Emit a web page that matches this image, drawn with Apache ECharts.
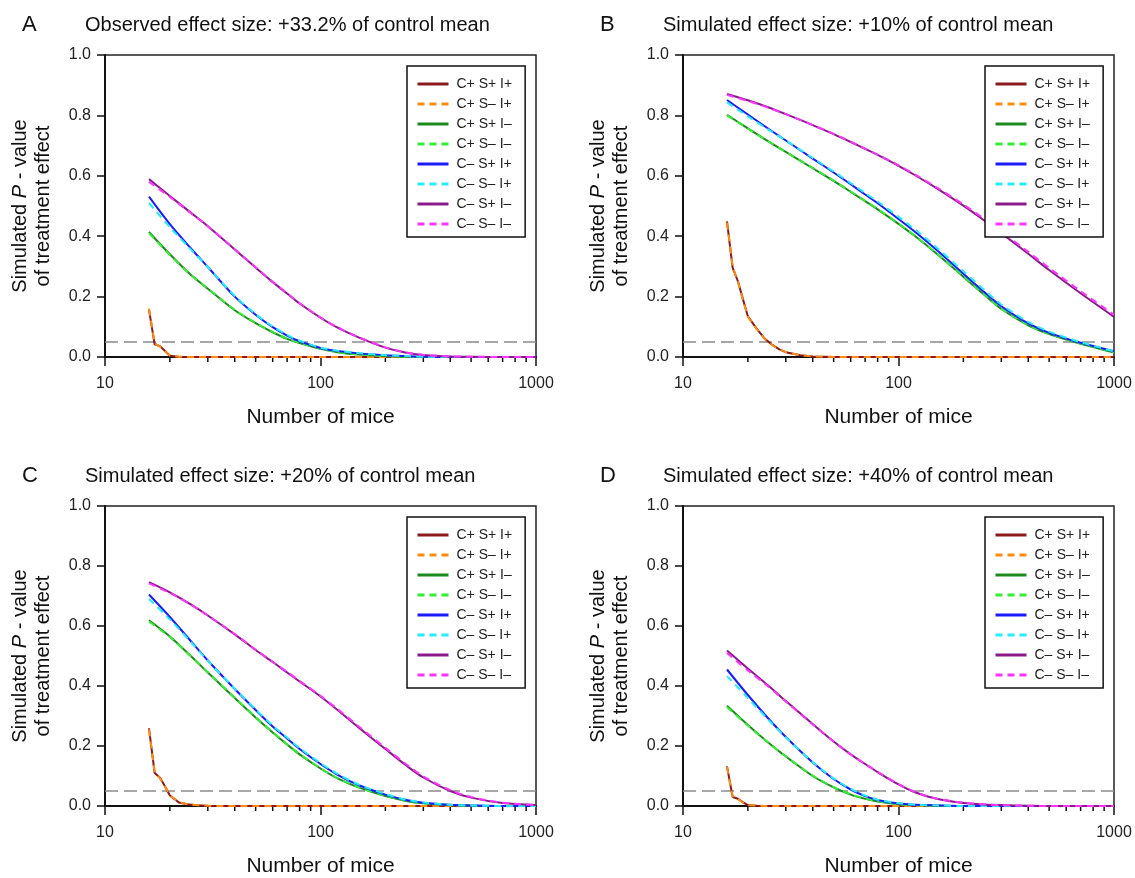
<!DOCTYPE html>
<html><head><meta charset="utf-8">
<script src="https://cdn.jsdelivr.net/npm/echarts@6/dist/echarts.min.js"></script>
<style>html,body{margin:0;padding:0;background:#fff}#c{width:1135px;height:878px}</style>
</head><body><div id="c"></div>
<script>
// ---------- DATA ----------
const seriesNames = ['C+ S+ I+','C+ S– I+','C+ S+ I–','C+ S– I–','C– S+ I+','C– S– I+','C– S+ I–','C– S– I–'];
const panelLetters = ['A','B','C','D'];
const panelTitles = [
  'Observed effect size: +33.2% of control mean',
  'Simulated effect size: +10% of control mean',
  'Simulated effect size: +20% of control mean',
  'Simulated effect size: +40% of control mean'
];
const xTicks = [10, 100, 1000];
const yTicks = [0, 0.2, 0.4, 0.6, 0.8, 1.0];
const minorTicks = [20,30,40,50,60,70,80,90,200,300,400,500,600,700,800,900];
const threshold = 0.05;

// Number of mice sampled
const nMain = [16, 20, 25, 30, 40, 50, 60, 70, 80, 100, 120, 150, 200, 250, 300, 400, 500, 700, 1000];
const nLow  = [16, 17, 18, 19, 20, 22, 24, 26, 28, 30, 35, 40, 50, 100, 1000];

// Panel A (observed +33.2%)
const A_cpSpIp = [0.157, 0.042, 0.036, 0.020, 0.004, 0.001, 0, 0, 0, 0, 0, 0, 0, 0, 0];
const A_cpSmIp = [0.160, 0.045, 0.034, 0.019, 0.005, 0.001, 0, 0, 0, 0, 0, 0, 0, 0, 0];
const A_cpSpIm = [0.414, 0.340, 0.272, 0.226, 0.155, 0.112, 0.082, 0.060, 0.046, 0.027, 0.016, 0.008, 0.003, 0.001, 0, 0, 0, 0, 0];
const A_cpSmIm = [0.410, 0.338, 0.272, 0.227, 0.156, 0.113, 0.083, 0.061, 0.047, 0.028, 0.016, 0.008, 0.003, 0.001, 0, 0, 0, 0, 0];
const A_cmSpIp = [0.531, 0.440, 0.360, 0.298, 0.200, 0.140, 0.099, 0.071, 0.052, 0.030, 0.020, 0.012, 0.006, 0.003, 0.001, 0, 0, 0, 0];
const A_cmSmIp = [0.510, 0.430, 0.356, 0.298, 0.202, 0.142, 0.101, 0.073, 0.054, 0.031, 0.021, 0.013, 0.006, 0.003, 0.001, 0, 0, 0, 0];
const A_cmSpIm = [0.589, 0.533, 0.478, 0.433, 0.356, 0.296, 0.248, 0.210, 0.177, 0.130, 0.097, 0.065, 0.031, 0.014, 0.007, 0.002, 0.001, 0, 0];
const A_cmSmIm = [0.580, 0.530, 0.477, 0.433, 0.357, 0.297, 0.249, 0.211, 0.178, 0.131, 0.098, 0.066, 0.032, 0.015, 0.007, 0.002, 0.001, 0, 0];

// Panel B (+10%)
const B_cpSpIp = [0.449, 0.295, 0.250, 0.190, 0.135, 0.093, 0.060, 0.040, 0.025, 0.016, 0.006, 0.002, 0, 0, 0];
const B_cpSmIp = [0.445, 0.300, 0.248, 0.188, 0.133, 0.092, 0.059, 0.039, 0.025, 0.016, 0.006, 0.002, 0, 0, 0];
const B_cpSpIm = [0.802, 0.757, 0.713, 0.679, 0.625, 0.583, 0.547, 0.516, 0.489, 0.441, 0.399, 0.343, 0.266, 0.206, 0.159, 0.105, 0.076, 0.044, 0.015];
const B_cpSmIm = [0.800, 0.756, 0.713, 0.679, 0.626, 0.584, 0.548, 0.517, 0.490, 0.442, 0.400, 0.344, 0.267, 0.207, 0.160, 0.106, 0.077, 0.045, 0.016];
const B_cmSpIp = [0.851, 0.803, 0.755, 0.717, 0.657, 0.611, 0.572, 0.538, 0.509, 0.457, 0.413, 0.355, 0.276, 0.215, 0.168, 0.111, 0.080, 0.047, 0.019];
const B_cmSmIp = [0.843, 0.797, 0.752, 0.717, 0.659, 0.614, 0.576, 0.543, 0.515, 0.464, 0.421, 0.363, 0.284, 0.222, 0.174, 0.116, 0.084, 0.049, 0.019];
const B_cmSpIm = [0.871, 0.850, 0.826, 0.804, 0.768, 0.738, 0.712, 0.689, 0.669, 0.633, 0.601, 0.559, 0.501, 0.452, 0.410, 0.342, 0.288, 0.211, 0.133];
const B_cmSmIm = [0.868, 0.848, 0.825, 0.804, 0.768, 0.739, 0.713, 0.690, 0.670, 0.635, 0.603, 0.562, 0.505, 0.457, 0.415, 0.348, 0.295, 0.218, 0.140];

// Panel C (+20%)
const C_cpSpIp = [0.259, 0.110, 0.094, 0.065, 0.035, 0.012, 0.006, 0.003, 0.002, 0.001, 0, 0, 0, 0, 0];
const C_cpSmIp = [0.255, 0.112, 0.092, 0.066, 0.036, 0.013, 0.006, 0.003, 0.002, 0.001, 0, 0, 0, 0, 0];
const C_cpSpIm = [0.619, 0.565, 0.500, 0.445, 0.360, 0.295, 0.245, 0.205, 0.172, 0.125, 0.092, 0.062, 0.033, 0.017, 0.009, 0.003, 0.001, 0, 0];
const C_cpSmIm = [0.615, 0.563, 0.500, 0.446, 0.361, 0.296, 0.246, 0.206, 0.173, 0.126, 0.093, 0.063, 0.034, 0.018, 0.009, 0.003, 0.001, 0, 0];
const C_cmSpIp = [0.705, 0.630, 0.550, 0.485, 0.390, 0.320, 0.265, 0.225, 0.190, 0.140, 0.104, 0.070, 0.038, 0.020, 0.011, 0.004, 0.002, 0, 0];
const C_cmSmIp = [0.690, 0.622, 0.547, 0.484, 0.391, 0.322, 0.268, 0.228, 0.193, 0.143, 0.107, 0.072, 0.040, 0.021, 0.012, 0.004, 0.002, 0, 0];
const C_cmSpIm = [0.746, 0.712, 0.672, 0.635, 0.572, 0.520, 0.480, 0.445, 0.415, 0.365, 0.320, 0.262, 0.190, 0.135, 0.095, 0.050, 0.028, 0.010, 0.003];
const C_cmSmIm = [0.742, 0.710, 0.671, 0.635, 0.573, 0.521, 0.481, 0.447, 0.417, 0.367, 0.323, 0.266, 0.194, 0.139, 0.099, 0.053, 0.030, 0.011, 0.003];

// Panel D (+40%)
const D_cpSpIp = [0.132, 0.030, 0.024, 0.012, 0.003, 0.001, 0, 0, 0, 0, 0, 0, 0, 0, 0];
const D_cpSmIp = [0.130, 0.032, 0.023, 0.011, 0.003, 0.001, 0, 0, 0, 0, 0, 0, 0, 0, 0];
const D_cpSpIm = [0.334, 0.270, 0.210, 0.165, 0.100, 0.062, 0.038, 0.024, 0.015, 0.006, 0.003, 0.001, 0, 0, 0, 0, 0, 0, 0];
const D_cpSmIm = [0.330, 0.268, 0.210, 0.166, 0.101, 0.063, 0.039, 0.025, 0.016, 0.006, 0.003, 0.001, 0, 0, 0, 0, 0, 0, 0];
const D_cmSpIp = [0.455, 0.370, 0.290, 0.230, 0.145, 0.090, 0.055, 0.033, 0.020, 0.008, 0.004, 0.002, 0, 0, 0, 0, 0, 0, 0];
const D_cmSmIp = [0.433, 0.360, 0.286, 0.229, 0.146, 0.092, 0.057, 0.035, 0.021, 0.009, 0.004, 0.002, 0, 0, 0, 0, 0, 0, 0];
const D_cmSpIm = [0.518, 0.458, 0.400, 0.350, 0.273, 0.215, 0.172, 0.140, 0.113, 0.072, 0.045, 0.024, 0.010, 0.005, 0.003, 0.001, 0, 0, 0];
const D_cmSmIm = [0.510, 0.452, 0.397, 0.348, 0.272, 0.215, 0.172, 0.140, 0.114, 0.073, 0.046, 0.025, 0.011, 0.006, 0.003, 0.001, 0, 0, 0];

const panelData = [
  [A_cpSpIp, A_cpSmIp, A_cpSpIm, A_cpSmIm, A_cmSpIp, A_cmSmIp, A_cmSpIm, A_cmSmIm],
  [B_cpSpIp, B_cpSmIp, B_cpSpIm, B_cpSmIm, B_cmSpIp, B_cmSmIp, B_cmSpIm, B_cmSmIm],
  [C_cpSpIp, C_cpSmIp, C_cpSpIm, C_cpSmIm, C_cmSpIp, C_cmSmIp, C_cmSpIm, C_cmSmIm],
  [D_cpSpIp, D_cpSmIp, D_cpSpIm, D_cpSmIm, D_cmSpIp, D_cmSmIp, D_cmSpIm, D_cmSmIm]
];
const seriesUsesLow = [true, true, false, false, false, false, false, false];

// ---------- STYLE / LAYOUT ----------
const FONT = '"Liberation Sans", Arial, Helvetica, sans-serif';
const colors = ['#8B1A1A', '#FF8C10', '#1E8A1E', '#33EE33', '#1A1AFF', '#22EEFF', '#8A1A8A', '#FF33FF'];
const dashed = [false, true, false, true, false, true, false, true];
const gridLefts = [105, 683, 105, 683];
const gridTops = [55, 55, 506, 506];
const GW = 431, GH = 302;

const grids = [], xAxes = [], yAxes = [], series = [], legends = [], graphics = [];
for (let p = 0; p < 4; p++) {
  grids.push({ left: gridLefts[p], top: gridTops[p], width: GW, height: GH, show: true,
    borderColor: '#222', borderWidth: 1.5, backgroundColor: 'transparent' });
  xAxes.push({
    type: 'log', logBase: 10, gridIndex: p, min: xTicks[0], max: xTicks[xTicks.length - 1],
    name: 'Number of mice', nameLocation: 'middle', nameGap: 50,
    nameTextStyle: { fontSize: 21, color: '#111', fontFamily: FONT },
    axisLine: { show: true, onZero: false, lineStyle: { color: '#111', width: 2 } },
    axisTick: { show: true, inside: false, length: 9, lineStyle: { color: '#111', width: 1.5 } },
    axisLabel: { fontSize: 16, color: '#222', fontFamily: FONT, margin: 19,
      formatter: v => String(Math.round(v)) },
    splitLine: { show: false }
  });
  yAxes.push({
    type: 'value', gridIndex: p, min: yTicks[0], max: yTicks[yTicks.length - 1], interval: 0.2,
    name: '{n|Simulated }{i|P}{n| - value}\n{n|of treatment effect}',
    nameLocation: 'middle', nameGap: 50, nameRotate: 90,
    nameTextStyle: { color: '#111', fontFamily: FONT, fontSize: 20, lineHeight: 23,
      rich: { n: { fontSize: 20, lineHeight: 23, fontFamily: FONT, color: '#111' },
              i: { fontSize: 20, lineHeight: 23, fontFamily: FONT, color: '#111', fontStyle: 'italic' } } },
    axisLine: { show: true, lineStyle: { color: '#111', width: 2 } },
    axisTick: { show: true, inside: false, length: 8, lineStyle: { color: '#111', width: 1.5 } },
    axisLabel: { fontSize: 16, color: '#222', fontFamily: FONT, margin: 14,
      formatter: v => v.toFixed(1) },
    splitLine: { show: false }
  });
  // threshold line
  series.push({
    type: 'line', xAxisIndex: p, yAxisIndex: p, silent: true, symbol: 'none', z: 1,
    data: [[xTicks[0], threshold], [xTicks[xTicks.length - 1], threshold]],
    lineStyle: { color: '#8a8a8a', width: 1.5, type: [13, 6] }
  });
  // minor ticks on log axis
  series.push({
    type: 'custom', xAxisIndex: p, yAxisIndex: p, silent: true, z: 1, clip: false,
    data: minorTicks.map(v => [v, 0]),
    renderItem: (params, api) => {
      const pt = api.coord([api.value(0), 0]);
      return { type: 'line', shape: { x1: pt[0], y1: pt[1], x2: pt[0], y2: pt[1] + 5 },
        style: { stroke: '#111', lineWidth: 1.5 } };
    }
  });
  for (let s = 0; s < 8; s++) {
    const xs = seriesUsesLow[s] ? nLow : nMain;
    const vals = panelData[p][s];
    series.push({
      name: seriesNames[s], type: 'line', xAxisIndex: p, yAxisIndex: p,
      data: xs.map((n, i) => [n, vals[i]]),
      symbol: 'none', showSymbol: false, clip: false,
      smooth: seriesUsesLow[s] ? false : 0.3,
      color: colors[s],
      lineStyle: { color: colors[s], width: 2, type: dashed[s] ? [7, 5] : 'solid' },
      z: 3 + s
    });
  }
  legends.push({
    orient: 'vertical', left: gridLefts[p] + 302, top: gridTops[p] + 11,
    itemWidth: 31, itemHeight: 14, itemGap: 6, padding: [11, 13, 6, 9],
    borderColor: '#111', borderWidth: 1.5, backgroundColor: '#fff',
    selectedMode: false, z: 20,
    itemStyle: { opacity: 0, color: 'rgba(0,0,0,0)', borderWidth: 0 },
    lineStyle: { width: 3 },
    textStyle: { fontSize: 14, color: '#222', fontFamily: FONT, padding: [0, 0, 0, 3] },
    data: seriesNames.slice()
  });
  graphics.push({ type: 'text', x: gridLefts[p] - 83, y: gridTops[p] - 30,
    style: { text: panelLetters[p], font: '22px ' + FONT, fill: '#111', verticalAlign: 'middle' } });
  graphics.push({ type: 'text', x: gridLefts[p] - 20, y: gridTops[p] - 30,
    style: { text: panelTitles[p], font: '20px ' + FONT, fill: '#111', verticalAlign: 'middle' } });
}

const chart = echarts.init(document.getElementById('c'), null, { renderer: 'canvas' });
chart.setOption({
  backgroundColor: '#fff',
  animation: false,
  grid: grids, xAxis: xAxes, yAxis: yAxes, series: series, legend: legends,
  graphic: graphics
});
</script></body></html>
